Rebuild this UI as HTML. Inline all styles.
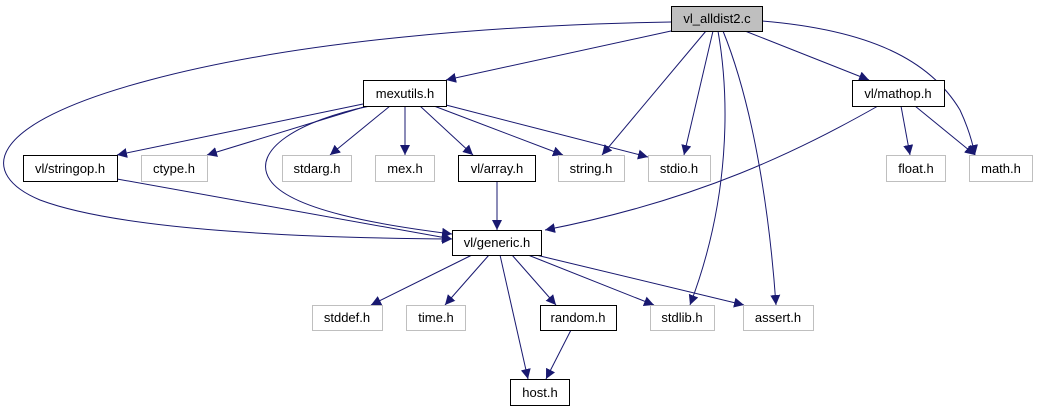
<!DOCTYPE html>
<html><head><meta charset="utf-8"><style>
html,body{margin:0;padding:0;background:#fff;}
svg text{font-family:"Liberation Sans",sans-serif;font-size:13px;fill:#000;}
</style></head><body>
<svg width="1037" height="411" viewBox="0 0 1037 411" xmlns="http://www.w3.org/2000/svg">
<defs><marker id="a" viewBox="0 0 10 10" refX="10" refY="5" markerWidth="10" markerHeight="10" markerUnits="userSpaceOnUse" orient="auto"><path d="M0,0 L10,5 L0,10 z" fill="#191970"/></marker></defs>
<g fill="none" stroke="#191970" stroke-width="1" marker-end="url(#a)">
<path d="M671,22 C500,25 300,40 150,80 C-20,125 -20,175 40,200 C120,230 300,238 452,239"/>
<path d="M671,31 L446,80"/>
<path d="M706,31 L602,155"/>
<path d="M713,31 L684,155"/>
<path d="M718,31 C730,100 730,200 690,305"/>
<path d="M723,31 C755,110 770,220 776,305"/>
<path d="M745,31 L869,80"/>
<path d="M762,21 C870,30 930,60 960,110 C967,125 972,140 975,155"/>
<path d="M363,104 L117,155"/>
<path d="M367,106 L207,155"/>
<path d="M390,106 L330,155"/>
<path d="M405,106 L405,155"/>
<path d="M420,106 L473,155"/>
<path d="M434,106 L563,155"/>
<path d="M446,105 L648,157"/>
<path d="M370,106 C300,120 250,150 270,180 C290,210 380,225 452,234"/>
<path d="M117,179 L452,239"/>
<path d="M497,181 L497,230"/>
<path d="M878,106 C800,150 700,200 545,230"/>
<path d="M901,106 L910,155"/>
<path d="M915,106 L975,155"/>
<path d="M472,255 L371,305"/>
<path d="M489,255 L445,305"/>
<path d="M512,255 L556,305"/>
<path d="M500,255 L528,379"/>
<path d="M528,255 L654,305"/>
<path d="M536,255 L744,305"/>
<path d="M571,330 L546,379"/>
</g>
<g stroke-width="1">
<rect x="671.5" y="6.5" width="91" height="25" fill="#bfbfbf" stroke="#000"/>
<rect x="363.5" y="80.5" width="83" height="26" fill="#fff" stroke="#000"/>
<rect x="852.5" y="80.5" width="92" height="26" fill="#fff" stroke="#000"/>
<rect x="23.5" y="155.5" width="94" height="26" fill="#fff" stroke="#000"/>
<rect x="141.5" y="155.5" width="66" height="26" fill="#fff" stroke="#bfbfbf"/>
<rect x="282.5" y="155.5" width="69" height="26" fill="#fff" stroke="#bfbfbf"/>
<rect x="375.5" y="155.5" width="59" height="26" fill="#fff" stroke="#bfbfbf"/>
<rect x="458.5" y="155.5" width="77" height="26" fill="#fff" stroke="#000"/>
<rect x="558.5" y="155.5" width="66" height="26" fill="#fff" stroke="#bfbfbf"/>
<rect x="648.5" y="155.5" width="62" height="26" fill="#fff" stroke="#bfbfbf"/>
<rect x="886.5" y="155.5" width="59" height="26" fill="#fff" stroke="#bfbfbf"/>
<rect x="969.5" y="155.5" width="63" height="26" fill="#fff" stroke="#bfbfbf"/>
<rect x="452.5" y="230.5" width="89" height="25" fill="#fff" stroke="#000"/>
<rect x="312.5" y="305.5" width="70" height="25" fill="#fff" stroke="#bfbfbf"/>
<rect x="406.5" y="305.5" width="59" height="25" fill="#fff" stroke="#bfbfbf"/>
<rect x="540.5" y="305.5" width="76" height="25" fill="#fff" stroke="#000"/>
<rect x="650.5" y="305.5" width="64" height="25" fill="#fff" stroke="#bfbfbf"/>
<rect x="743.5" y="305.5" width="70" height="25" fill="#fff" stroke="#bfbfbf"/>
<rect x="510.5" y="379.5" width="59" height="26" fill="#fff" stroke="#000"/>
</g>
<g text-anchor="middle">
<text x="717" y="23">vl_alldist2.c</text>
<text x="405" y="98">mexutils.h</text>
<text x="898" y="98">vl/mathop.h</text>
<text x="70" y="173">vl/stringop.h</text>
<text x="174" y="173">ctype.h</text>
<text x="317" y="173">stdarg.h</text>
<text x="405" y="173">mex.h</text>
<text x="497" y="173">vl/array.h</text>
<text x="591" y="173">string.h</text>
<text x="679" y="173">stdio.h</text>
<text x="916" y="173">float.h</text>
<text x="1001" y="173">math.h</text>
<text x="497" y="247">vl/generic.h</text>
<text x="347" y="322">stddef.h</text>
<text x="436" y="322">time.h</text>
<text x="578" y="322">random.h</text>
<text x="682" y="322">stdlib.h</text>
<text x="778" y="322">assert.h</text>
<text x="540" y="397">host.h</text>
</g>
</svg>
</body></html>
